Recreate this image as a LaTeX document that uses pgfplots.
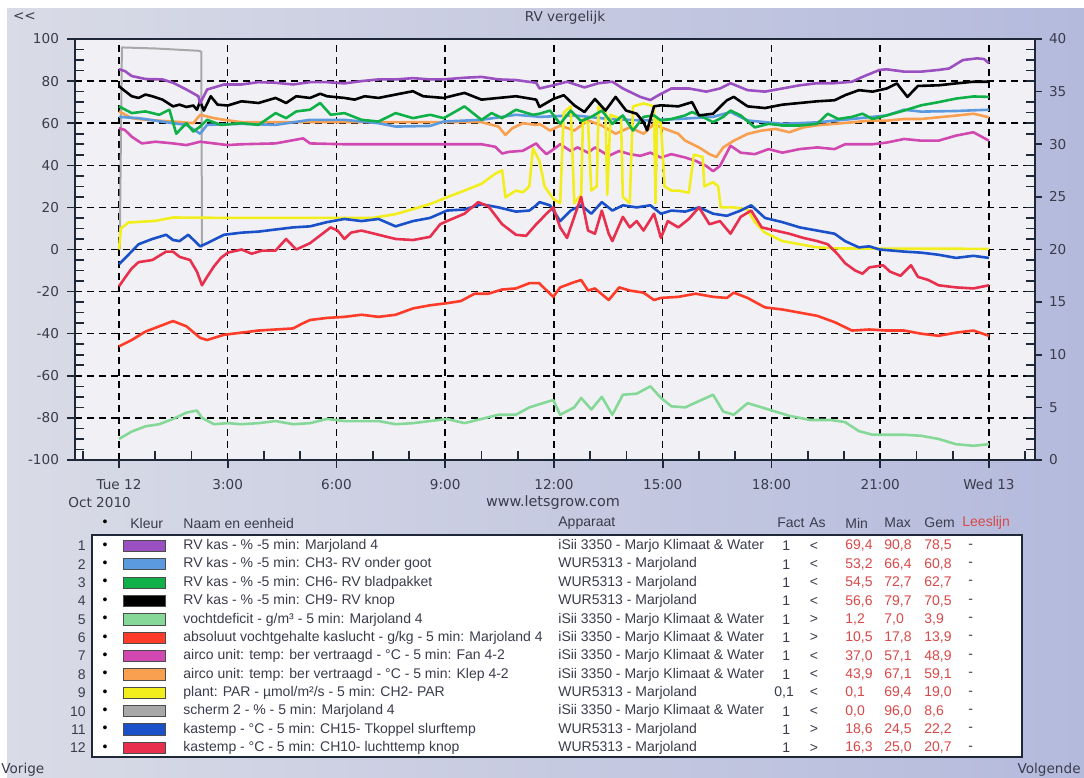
\documentclass[border=0pt]{standalone}
\usepackage{pgfplots}
\pgfplotsset{compat=1.18}
\usepackage{fontspec}
\setmainfont{DejaVu Sans}
\newfontfamily\tabfont{Liberation Sans}
\definecolor{panelL}{HTML}{D9DBE6}
\definecolor{panelR}{HTML}{B4BADC}
\definecolor{plotbg}{HTML}{F1F1F5}
\definecolor{axcol}{HTML}{1E2838}
\definecolor{tgrey}{HTML}{3A3C4C}
\definecolor{tred}{HTML}{D84848}
\definecolor{cPurple}{HTML}{9A50C0}
\definecolor{cLBlue}{HTML}{5C9AE0}
\definecolor{cGreen}{HTML}{10B048}
\definecolor{cPale}{HTML}{86D898}
\definecolor{cRed}{HTML}{FF3B2A}
\definecolor{cMag}{HTML}{D048B0}
\definecolor{cOrange}{HTML}{F8A050}
\definecolor{cYellow}{HTML}{F2EE1E}
\definecolor{cGrey}{HTML}{A8A8A8}
\definecolor{cBlue}{HTML}{1A50C8}
\definecolor{cCrimson}{HTML}{E8304E}
\newcommand{\tf}{\tabfont\fontsize{7}{8}\selectfont}
\newcommand{\trow}[9]{%
  \pgfmathsetmacro\yy{116-9.18*(#1-1)}%
  \node[anchor=east,font=\tf,text=tgrey,inner sep=0pt] at (43pt,\yy pt) {#1};
  \node[font=\tf,inner sep=0pt] at (52.5pt,\yy pt) {•};
  \draw[fill=#2,draw=black!70,line width=0.5pt] (61.5pt,\yy pt-2.8pt) rectangle (82.5pt,\yy pt+2.8pt);
  \node[anchor=west,font=\tf,text=tgrey,inner sep=0pt] at (91.5pt,\yy pt) {#3};
  \node[anchor=west,font=\tf,text=tgrey,inner sep=0pt] at (279pt,\yy pt) {#4};
  \node[anchor=center,font=\tf,text=tgrey,inner sep=0pt] at (407pt,\yy pt) {#6};
  \node[anchor=west,font=\tf,text=tred,inner sep=0pt] at (422.5pt,\yy pt) {#7};
  \node[anchor=west,font=\tf,text=tred,inner sep=0pt] at (442pt,\yy pt) {#8};
  \node[anchor=west,font=\tf,text=tred,inner sep=0pt] at (462pt,\yy pt) {#9};
  \node[anchor=west,font=\tf,text=tgrey,inner sep=0pt] at (484pt,\yy pt) {-};
  \node[anchor=west,font=\tf,text=tgrey,inner sep=0pt] at (#5pt,\yy pt) {\ifnum#1=9 0,1\else 1\fi};
}
\begin{document}
\begin{tikzpicture}
\path[use as bounding box] (0pt,0pt) rectangle (542pt,389pt);
\fill[white] (0pt,0pt) rectangle (542pt,389pt);
\shade[left color=panelL, right color=panelR] (3.5pt,0pt) rectangle (542pt,384.5pt);

\begin{axis}[
  at={(37.5pt,159pt)}, anchor=south west,
  scale only axis, width=480pt, height=210.5pt,
  xmin=-1.214, xmax=25.27, ymin=-100, ymax=100,
  axis background/.style={fill=plotbg},
  axis line style={axcol, line width=0.9pt},
  xtick={0,3,...,24},
  xticklabels={Tue 12,3:00,6:00,9:00,12:00,15:00,18:00,21:00,Wed 13},
  ytick={-100,-80,...,100},
  tick pos=left,
  tick align=outside,
  major tick length=4pt,
  every tick/.style={draw=axcol, line width=0.8pt},
  xmajorgrids, ymajorgrids,
  major grid style={black, line width=0.75pt, dash pattern=on 3.5pt off 2.5pt},
  /pgf/number format/assume math mode=true,
  ticklabel style={font=\fontsize{6.8}{8}\selectfont, text=tgrey},
  xticklabel style={yshift=-2pt},
  yticklabel style={xshift=-0.5pt},
  clip=false,
  every axis plot/.append style={line width=1.3pt, line join=round},
]
% minor ticks (inside), axis decoration
\pgfplotsinvokeforeach{-1,1,2,4,5,7,8,10,11,13,14,16,17,19,20,22,23,25}{
  \draw[axcol, line width=0.8pt] (axis cs:#1,-100) -- ++(0pt,4.5pt);}
\pgfplotsinvokeforeach{-95,-90,-85,-75,-70,-65,-55,-50,-45,-35,-30,-25,-15,-10,-5,5,10,15,25,30,35,45,50,55,65,70,75,85,90,95}{
  \draw[axcol, line width=0.8pt] (axis cs:-1.214,#1) -- ++(4.5pt,0pt);}
% scherm 2 (grey)
\addplot[cGrey, line width=1pt] coordinates {(0.02,0)(0.08,96)(1,95.5)(2.2,94.4)(2.27,94)(2.29,1)};
% magenta Fan 4-2
\addplot[cMag] coordinates {(0,57.6)(0.16,56.8)(0.35,53.6)(0.63,50.4)(1.01,51.2)(1.49,50.4)(1.86,49.6)(2.24,51.2)(2.62,50.4)(3.0,49.6)(3.38,50)(4.32,50.4)(5.08,52.8)(5.27,50.4)(6.22,50)(7.16,50)(8.11,50)(9.05,50)(10,50)(10.38,48.8)(10.57,45.6)(10.76,46.4)(11.14,46.9)(11.51,50.4)(11.6,48.5)(11.79,45.3)(11.98,47.5)(12.17,50)(12.46,46.8)(12.65,48.5)(12.94,46)(13.13,48.5)(13.51,44.5)(13.8,46.8)(14.09,45.3)(14.38,44.5)(14.66,46)(14.95,43.7)(15.24,45.3)(15.62,43.7)(15.91,42.1)(16.2,39.7)(16.39,37.2)(16.58,39.7)(16.87,49.3)(17.15,46)(17.54,45.3)(17.92,47.7)(18.3,46)(18.78,47.7)(19.26,48.5)(19.74,47.7)(20.03,50)(20.41,50)(20.79,50)(21.18,50.8)(21.66,52.5)(22.13,51.7)(22.61,51.7)(23.09,54.1)(23.57,55.7)(24,51.7)};
% orange Klep 4-2
\addplot[cOrange] coordinates {(0,65.6)(0.35,62.4)(0.73,61.6)(1.49,60.8)(2.05,60)(2.24,64)(2.43,63.2)(2.62,62.4)(2.9,61.6)(3.38,60.5)(4.32,60.5)(5.27,60.5)(6.22,60.5)(7.16,60.5)(8.11,60.5)(8.96,60.5)(10,60.5)(10.47,58.4)(10.66,54.4)(10.85,57.6)(11.14,60)(11.51,59.2)(11.6,59.7)(11.89,56.5)(12.17,58.9)(12.56,56.5)(12.94,61.3)(13.32,58.9)(13.7,55)(14.09,58)(14.47,55)(14.76,59.7)(14.95,58)(15.43,55)(15.62,51.7)(16,48.5)(16.29,45.3)(16.48,43.9)(16.67,48.5)(16.96,51.7)(17.34,54.9)(17.73,56.5)(18.11,57.3)(18.49,55.7)(18.88,58)(19.26,59)(19.74,59.7)(20.22,60.4)(20.7,61.2)(21.18,61.2)(21.66,62)(22.13,62)(22.61,62.8)(23.09,63.6)(23.57,64.5)(24,62.8)};
% light blue CH3
\addplot[cLBlue] coordinates {(0,63)(0.54,62.4)(1.49,60)(1.86,59.2)(2.24,55)(2.43,59.2)(3.38,59.7)(4.32,59.2)(5.27,61.6)(6.22,61.6)(7.16,60)(7.63,58.4)(8.58,58.7)(8.96,60.8)(10,61.6)(10.95,64)(11.51,63.2)(11.6,63)(12.56,63.7)(13.51,62)(14.47,61.3)(15.43,62)(16.39,63)(16.87,65.3)(17.34,61.3)(18.3,59.7)(19.26,60.4)(20.22,62)(21.18,63.7)(21.66,66.4)(22.13,65.5)(23.09,65.8)(24,66.4)};
% yellow PAR (x0.1)
\addplot[cYellow] coordinates {(0,0)(0.05,10)(0.26,12.8)(1.01,13.6)(1.49,15.2)(3,15)(5,15)(7,15)(7.63,16.8)(8.11,19.2)(8.58,21.6)(9.05,24.8)(9.53,28)(10,31.2)(10.38,36)(10.57,37.6)(10.66,24.8)(10.95,28)(11.14,27.2)(11.32,30)(11.42,48)(11.51,45)(11.6,42)(11.74,30)(11.98,24)(12.17,22)(12.27,65)(12.46,68)(12.56,22)(12.75,26)(12.8,62)(12.94,60)(13.03,28)(13.18,30)(13.23,68)(13.42,66)(13.47,26)(13.56,64)(13.85,62)(13.9,25)(14.09,22)(14.18,68)(14.47,69.4)(14.76,68)(14.8,22)(14.85,62)(14.95,60)(15.05,30)(15.24,28)(15.43,28)(15.72,27)(15.86,45)(16.1,44)(16.15,30)(16.39,32)(16.53,30)(16.6,20)(16.96,20)(17.34,19)(17.54,13)(17.82,8)(18.3,4)(19.26,1)(19.93,0.5)(24,0.3)};
% green CH6
\addplot[cGreen] coordinates {(0,68)(0.35,64.8)(0.73,65.6)(1.11,64)(1.39,66.4)(1.58,55)(1.86,60)(2.05,56)(2.24,58.4)(2.43,61.6)(2.81,59.2)(3.38,60)(3.85,59.2)(4.32,64.8)(4.61,62.4)(4.89,65.6)(5.27,66.4)(5.55,69.6)(5.84,64)(6.22,64.8)(6.69,61.6)(7.16,60.8)(7.63,64.8)(8.11,62.4)(8.58,64)(8.96,62.4)(9.53,68)(10,61.6)(10.28,64.8)(10.57,62.4)(10.95,66.4)(11.42,64)(11.6,64.5)(11.89,66)(12.17,59.7)(12.46,66)(12.75,61)(13.03,63)(13.32,66)(13.61,59.7)(13.9,63.7)(14.18,56.5)(14.47,63)(14.76,63.7)(14.95,61.3)(15.24,62)(15.62,63.7)(15.81,65.3)(16.1,63)(16.39,60.5)(16.67,63)(16.87,66)(17.15,63.7)(17.54,58)(17.92,59.7)(18.3,58.9)(18.78,58.9)(19.26,59.7)(19.55,64.5)(19.84,62)(20.22,63)(20.51,64.5)(20.79,62)(21.18,63.7)(21.66,66)(22.13,68.5)(22.61,70)(23.09,71.7)(23.57,72.7)(24,72.5)};
% black CH9
\addplot[black] coordinates {(0,77.6)(0.11,76)(0.35,72.8)(0.54,72)(0.73,73.6)(0.92,72.8)(1.2,71.2)(1.49,68)(1.67,68.8)(1.86,67.7)(2.05,68.4)(2.15,66.4)(2.24,70.4)(2.34,66)(2.53,72.8)(2.72,68.8)(3.0,68.4)(3.38,70.4)(3.85,69.6)(4.32,72)(4.61,69.6)(4.89,72.8)(5.27,72)(5.55,74)(5.74,72.8)(6.22,72)(6.5,71.2)(6.78,72.8)(7.16,72)(7.63,73.6)(8.11,75.2)(8.39,72.8)(8.96,72)(9.53,74.4)(10,71.2)(10.47,72)(10.95,72.8)(11.51,71.2)(11.6,67.7)(11.98,71.5)(12.27,73.3)(12.56,68.5)(12.84,65.3)(13.13,71.5)(13.42,66)(13.7,72.5)(13.99,66)(14.28,64.5)(14.47,60.5)(14.57,56.6)(14.76,68)(14.95,68.5)(15.43,68)(15.81,70)(16,63.7)(16.39,64.5)(16.77,70.9)(16.96,72.5)(17.34,68)(17.82,67.2)(18.3,68.8)(18.78,69.6)(19.26,70.4)(19.74,70.9)(20.03,73.3)(20.41,75.7)(20.79,75)(21.18,76.5)(21.46,78.9)(21.75,72.5)(22.04,77.7)(22.61,78)(23.09,78.9)(23.57,79.7)(24,79.7)};
% purple Marjoland 4
\addplot[cPurple] coordinates {(0,85.6)(0.16,84.8)(0.35,82.4)(0.73,81)(1.2,80.8)(1.49,79.2)(1.86,76)(2.19,72.8)(2.24,69.4)(2.43,76)(2.9,78.4)(3.38,78.4)(3.85,79.5)(4.32,79.2)(4.8,78.4)(5.27,79.5)(5.74,79.5)(6.22,78.9)(6.69,80)(7.16,80.8)(7.63,80.8)(8.11,81.4)(8.58,80.8)(8.96,80.8)(9.53,81.6)(10,82)(10.47,80.8)(10.95,80.5)(11.51,79.2)(11.6,76.5)(11.98,78)(12.36,79.7)(12.84,77)(13.23,79)(13.61,79.7)(13.9,76.5)(14.38,72.5)(14.66,71)(14.85,73)(15.24,76.5)(15.72,76.5)(16.2,75)(16.58,76.5)(16.87,79)(17.34,75.7)(17.82,75)(18.3,76.5)(18.78,78)(19.26,79)(19.74,79)(20.22,79.7)(20.51,82)(20.98,85.3)(21.18,85.6)(21.66,84.5)(22.13,84.5)(22.61,85.3)(22.9,86)(23.28,90)(23.67,90.8)(23.86,90.5)(24,88.5)};
\end{axis}

\begin{axis}[
  at={(37.5pt,159pt)}, anchor=south west,
  scale only axis, width=480pt, height=210.5pt,
  xmin=-1.214, xmax=25.27, ymin=0, ymax=40,
  axis x line=none, axis y line*=right,
  axis line style={axcol, line width=0.9pt},
  ytick={0,5,...,40},
  tick align=outside,
  major tick length=3.5pt,
  every tick/.style={draw=axcol, line width=0.8pt},
  /pgf/number format/assume math mode=true,
  ticklabel style={font=\fontsize{6.8}{8}\selectfont, text=tgrey},
  clip=false,
  every axis plot/.append style={line width=1.3pt, line join=round},
]
\pgfplotsinvokeforeach{1,2,3,4,6,7,8,9,11,12,13,14,16,17,18,19,21,22,23,24,26,27,28,29,31,32,33,34,36,37,38,39}{
  \draw[axcol, line width=0.8pt] (axis cs:25.27,#1) -- ++(-4.5pt,0pt);}
% vochtdeficit
\addplot[cPale] coordinates {(0,2)(0.35,2.7)(0.73,3.2)(1.11,3.4)(1.49,3.9)(1.86,4.5)(2.15,4.7)(2.29,4)(2.62,3.4)(3,3.5)(3.38,3.4)(3.85,3.5)(4.32,3.7)(4.8,3.4)(5.27,3.5)(5.74,3.9)(6.22,3.7)(6.69,3.7)(7.16,3.7)(7.63,3.4)(8.11,3.5)(8.58,3.7)(9.05,3.9)(9.53,3.5)(10,3.9)(10.47,4.3)(10.95,4.3)(11.32,5)(11.6,5.3)(11.98,5.7)(12.17,4.3)(12.56,5)(12.75,5.9)(13.03,4.8)(13.32,6)(13.61,4.3)(13.9,6.2)(14.28,6.3)(14.66,7)(14.95,5.9)(15.24,5.1)(15.62,5)(16,5.6)(16.39,6.2)(16.67,4.6)(16.96,4.3)(17.34,5.4)(17.73,5)(18.11,4.6)(18.49,4.2)(19.07,3.8)(19.64,3.8)(20.03,3.6)(20.41,2.75)(20.79,2.4)(21.18,2.4)(21.66,2.4)(22.13,2.3)(22.61,2)(23.09,1.5)(23.57,1.35)(24,1.5)};
% absoluut vochtgehalte
\addplot[cRed] coordinates {(0,10.8)(0.35,11.4)(0.73,12.2)(1.11,12.7)(1.49,13.2)(1.86,12.7)(2.24,11.6)(2.43,11.4)(2.9,11.9)(3.38,12.1)(3.85,12.3)(4.32,12.4)(4.8,12.5)(5.08,13)(5.27,13.3)(5.74,13.5)(6.22,13.6)(6.69,13.8)(7.16,13.6)(7.63,13.8)(8.11,14.4)(8.58,14.7)(9.05,14.9)(9.43,15.1)(9.81,15.8)(10.19,15.8)(10.57,16.2)(10.95,16.3)(11.32,16.8)(11.59,16.8)(11.98,15.5)(12.17,16.4)(12.56,16.9)(12.75,17.1)(12.94,16.1)(13.13,16.3)(13.51,15.2)(13.8,16.4)(14.09,16.1)(14.47,15.9)(14.76,15.2)(14.95,15.4)(15.43,15.5)(15.91,15.8)(16.39,15.5)(16.77,15.4)(16.96,15.9)(17.34,15.4)(17.82,14.5)(18.3,14.3)(18.78,14)(19.26,13.7)(19.74,13.1)(20.22,12.3)(20.7,12.4)(21.18,12.3)(21.66,12.3)(22.13,12)(22.61,11.8)(23.09,12.1)(23.57,12.3)(24,11.8)};
% kastemp CH15 (blue)
\addplot[cBlue] coordinates {(0,18.6)(0.26,19.5)(0.54,20.5)(0.92,21)(1.3,21.4)(1.49,20.9)(1.67,20.8)(1.91,21.4)(2.15,20.6)(2.24,20.3)(2.43,20.6)(2.9,21.4)(3.38,21.6)(3.85,21.7)(4.32,21.9)(4.8,22.1)(5.27,22.2)(5.74,22.6)(6.22,22.9)(6.69,22.7)(7.16,22.9)(7.63,22.2)(8.11,22.7)(8.58,23)(9.05,23.7)(9.53,23.8)(10,24.3)(10.47,24)(10.95,23.6)(11.32,23.7)(11.51,24.2)(11.6,24.5)(11.89,24.2)(12.17,22.7)(12.46,23.7)(12.75,24.2)(13.03,23.4)(13.32,24.5)(13.61,23.7)(13.9,24.2)(14.28,24)(14.66,24.2)(14.95,23.4)(15.24,23.7)(15.62,23.6)(16,24)(16.39,23.4)(16.77,23.2)(17.15,23.7)(17.44,24.2)(17.82,23)(18.3,22.6)(18.78,22.1)(19.26,21.8)(19.74,21.5)(20.03,20.8)(20.41,20.2)(20.7,20.3)(20.98,20)(21.66,19.8)(22.13,19.7)(22.61,19.5)(23.09,19.2)(23.57,19.4)(24,19.2)};
% kastemp CH10 (crimson)
\addplot[cCrimson] coordinates {(0,16.5)(0.16,17.3)(0.35,18.2)(0.54,18.8)(0.92,19)(1.3,19.8)(1.49,19.8)(1.67,19.3)(1.96,19)(2.15,17.9)(2.29,16.6)(2.43,17.4)(2.62,18.4)(2.81,19.2)(3.0,19.7)(3.38,20)(3.66,19.6)(3.95,19.9)(4.32,19.9)(4.61,21)(4.89,20)(5.27,20.6)(5.46,21.1)(5.84,22.1)(6.03,21.8)(6.22,21)(6.4,21.6)(6.69,21.8)(7.16,21.4)(7.63,21)(8.11,20.9)(8.58,21.2)(8.86,22.4)(9.05,22.7)(9.53,23.4)(9.91,24.5)(10.19,24.1)(10.57,22.4)(10.95,21.4)(11.23,21.3)(11.51,22.4)(11.6,22.7)(11.79,23.4)(11.98,24)(12.17,22.1)(12.36,21.1)(12.56,23.1)(12.75,25)(12.94,21.8)(13.13,21.5)(13.32,23.7)(13.51,21.5)(13.61,20.8)(13.9,23.1)(14.09,22.1)(14.28,22.7)(14.47,21.8)(14.76,23.4)(14.95,21.1)(15.14,22.7)(15.43,22.1)(15.72,22.9)(16,24)(16.29,22.4)(16.58,22.7)(16.87,21.5)(17.15,23.1)(17.44,23.7)(17.73,22.1)(18.11,21.8)(18.49,21.5)(18.88,21.1)(19.26,20.8)(19.55,20.5)(19.84,19.5)(20.03,18.7)(20.31,18)(20.51,17.7)(20.7,18.3)(21.08,18.5)(21.27,17.9)(21.56,17.5)(21.85,18.5)(22.04,17.4)(22.33,17.1)(22.61,16.6)(23.09,16.4)(23.57,16.3)(24,16.6)};
\end{axis}

% texts around the chart
\node[font=\fontsize{6.8}{8}\selectfont,text=tgrey] at (282.5pt,380pt) {RV vergelijk};
\node[font=\fontsize{6.8}{8}\selectfont,text=tgrey,anchor=west] at (3pt,380.5pt) {{<}{<}};
\node[font=\fontsize{6.8}{8}\selectfont,text=tgrey,anchor=west,inner sep=0pt] at (34pt,137.5pt) {Oct 2010};
\node[font=\fontsize{7.2}{8}\selectfont,text=tgrey] at (276.5pt,137.5pt) {www.letsgrow.com};
\node[font=\fontsize{6.8}{8}\selectfont,text=tgrey,anchor=west,inner sep=0pt] at (0.5pt,4pt) {Vorige};
\node[font=\fontsize{6.8}{8}\selectfont,text=tgrey,anchor=east,inner sep=0pt] at (540.5pt,4pt) {Volgende};

% table header
\node[font=\tf,inner sep=0pt] at (52.5pt,127.5pt) {•};
\node[font=\tf,text=tgrey,anchor=west,inner sep=0pt] at (65pt,127.5pt) {Kleur};
\node[font=\tf,text=tgrey,anchor=west,inner sep=0pt] at (91.5pt,127.5pt) {Naam en eenheid};
\node[font=\tf,text=tgrey,anchor=west,inner sep=0pt] at (279pt,127.5pt) {Apparaat};
\node[font=\tf,text=tgrey,anchor=west,inner sep=0pt] at (388.5pt,127.5pt) {Fact};
\node[font=\tf,text=tgrey,anchor=west,inner sep=0pt] at (404.5pt,127.5pt) {As};
\node[font=\tf,text=tgrey,anchor=west,inner sep=0pt] at (422.5pt,127.5pt) {Min};
\node[font=\tf,text=tgrey,anchor=west,inner sep=0pt] at (442pt,127.5pt) {Max};
\node[font=\tf,text=tgrey,anchor=west,inner sep=0pt] at (462pt,127.5pt) {Gem};
\node[font=\tf,text=tred,anchor=west,inner sep=0pt] at (481pt,127.5pt) {Leeslijn};
% table box
\draw[fill=white, draw=axcol, line width=0.8pt] (46pt,10.5pt) rectangle (511pt,121.5pt);

\trow{1}{cPurple}{RV kas - \% -5 min: Marjoland 4}{iSii 3350 - Marjo Klimaat \& Water}{391}{<}{69,4}{90,8}{78,5}
\trow{2}{cLBlue}{RV kas - \% -5 min: CH3- RV onder goot}{WUR5313 - Marjoland}{391}{<}{53,2}{66,4}{60,8}
\trow{3}{cGreen}{RV kas - \% -5 min: CH6- RV bladpakket}{WUR5313 - Marjoland}{391}{<}{54,5}{72,7}{62,7}
\trow{4}{black}{RV kas - \% -5 min: CH9- RV knop}{WUR5313 - Marjoland}{391}{<}{56,6}{79,7}{70,5}
\trow{5}{cPale}{vochtdeficit - g/m³ - 5 min: Marjoland 4}{iSii 3350 - Marjo Klimaat \& Water}{391}{>}{1,2}{7,0}{3,9}
\trow{6}{cRed}{absoluut vochtgehalte kaslucht - g/kg - 5 min: Marjoland 4}{iSii 3350 - Marjo Klimaat \& Water}{391}{>}{10,5}{17,8}{13,9}
\trow{7}{cMag}{airco unit: temp: ber vertraagd - °C - 5 min: Fan 4-2}{iSii 3350 - Marjo Klimaat \& Water}{391}{<}{37,0}{57,1}{48,9}
\trow{8}{cOrange}{airco unit: temp: ber vertraagd - °C - 5 min: Klep 4-2}{iSii 3350 - Marjo Klimaat \& Water}{391}{<}{43,9}{67,1}{59,1}
\trow{9}{cYellow}{plant: PAR - µmol/m²/s - 5 min: CH2- PAR}{WUR5313 - Marjoland}{387}{<}{0,1}{69,4}{19,0}
\trow{10}{cGrey}{scherm 2 - \% - 5 min: Marjoland 4}{iSii 3350 - Marjo Klimaat \& Water}{391}{<}{0,0}{96,0}{8,6}
\trow{11}{cBlue}{kastemp - °C - 5 min: CH15- Tkoppel slurftemp}{WUR5313 - Marjoland}{391}{>}{18,6}{24,5}{22,2}
\trow{12}{cCrimson}{kastemp - °C - 5 min: CH10- luchttemp knop}{WUR5313 - Marjoland}{391}{>}{16,3}{25,0}{20,7}
\end{tikzpicture}
\end{document}
